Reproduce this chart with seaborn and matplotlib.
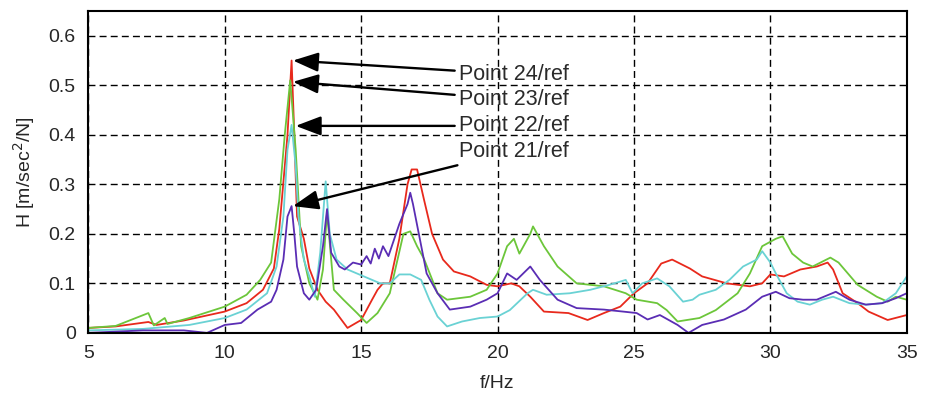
import matplotlib
matplotlib.use('Agg')
import matplotlib.pyplot as plt
import seaborn as sns
import pandas as pd

# Frequency response readings (f in Hz, H in m/sec^2/N)
f_24 = [5, 6, 7.2, 7.5, 8.5, 10, 10.8, 11.4, 11.8, 12.0, 12.3, 12.45, 12.55, 12.65,
        12.9, 13.1, 13.4, 13.7, 14.0, 14.5, 15.0, 15.4, 15.6, 15.8, 16.05, 16.4, 16.7,
        16.85, 17.05, 17.3, 17.6, 18.0, 18.4, 19.0, 19.6, 20.0, 20.5, 20.8, 21.2, 21.7,
        22.6, 23.3, 23.9, 24.5, 25.0, 25.5, 26.0, 26.4, 27.05, 27.5, 28.4, 29.25, 29.7,
        30.0, 30.5, 31.1, 31.7, 32.1, 32.3, 32.65, 33.2, 33.6, 34.3, 35]
h_24 = [0.01, 0.013, 0.022, 0.016, 0.025, 0.043, 0.06, 0.087, 0.13, 0.21, 0.40, 0.55,
        0.40, 0.235, 0.19, 0.13, 0.087, 0.063, 0.047, 0.01, 0.026, 0.067, 0.087, 0.1,
        0.1, 0.19, 0.30, 0.33, 0.33, 0.27, 0.2, 0.148, 0.124, 0.114, 0.097, 0.094, 0.1,
        0.094, 0.073, 0.043, 0.04, 0.026, 0.04, 0.053, 0.08, 0.1, 0.14, 0.148, 0.13,
        0.114, 0.1, 0.094, 0.1, 0.118, 0.114, 0.128, 0.134, 0.142, 0.128, 0.08, 0.06,
        0.043, 0.026, 0.036]

f_23 = [5, 6, 7.2, 7.4, 7.8, 7.9, 8.7, 10, 10.8, 11.3, 11.7, 12.0, 12.2, 12.4, 12.6,
        12.8, 13.1, 13.4, 13.6, 13.75, 14.0, 14.35, 14.85, 15.2, 15.6, 16.05, 16.55,
        16.8, 17.05, 17.3, 17.8, 18.15, 19.0, 19.6, 20.0, 20.35, 20.6, 20.8, 21.2, 21.3,
        21.7, 22.2, 22.9, 23.9, 24.7, 25.1, 25.85, 26.2, 26.6, 27.4, 28.0, 28.8, 29.25,
        29.7, 30.2, 30.45, 30.8, 31.2, 31.55, 32.2, 32.5, 33.2, 33.9, 34.3, 34.6, 35]
h_23 = [0.01, 0.014, 0.04, 0.015, 0.03, 0.018, 0.03, 0.053, 0.077, 0.107, 0.142, 0.27,
        0.40, 0.51, 0.37, 0.175, 0.1, 0.067, 0.128, 0.243, 0.087, 0.067, 0.04, 0.02,
        0.04, 0.08, 0.2, 0.205, 0.175, 0.15, 0.08, 0.067, 0.073, 0.087, 0.12, 0.175,
        0.19, 0.16, 0.2, 0.215, 0.175, 0.134, 0.1, 0.094, 0.08, 0.067, 0.06, 0.046,
        0.023, 0.03, 0.046, 0.08, 0.12, 0.175, 0.19, 0.195, 0.16, 0.142, 0.134, 0.152,
        0.142, 0.097, 0.073, 0.063, 0.073, 0.067]

f_22 = [5, 7, 8.7, 10, 10.8, 11.55, 11.9, 12.15, 12.3, 12.45, 12.6, 12.7, 12.9, 13.1,
        13.3, 13.5, 13.7, 13.85, 14.1, 14.5, 15.1, 15.7, 16.05, 16.4, 16.8, 17.2, 17.5,
        17.8, 18.15, 18.7, 19.35, 20.0, 20.45, 21.1, 21.3, 21.8, 22.65, 23.4, 24.1, 24.7,
        24.95, 25.3, 25.85, 26.3, 26.8, 27.15, 27.4, 28.0, 28.5, 29.0, 29.5, 29.7, 30.0,
        30.2, 30.6, 31.0, 31.45, 31.9, 32.3, 32.9, 33.5, 34.1, 34.6, 35]
h_22 = [0.005, 0.008, 0.016, 0.03, 0.047, 0.08, 0.134, 0.235, 0.37, 0.42, 0.337, 0.235,
        0.148, 0.114, 0.073, 0.162, 0.306, 0.2, 0.148, 0.128, 0.114, 0.1, 0.1, 0.118,
        0.118, 0.107, 0.067, 0.033, 0.013, 0.023, 0.03, 0.033, 0.046, 0.08, 0.087,
        0.077, 0.08, 0.087, 0.097, 0.107, 0.08, 0.1, 0.11, 0.094, 0.063, 0.067, 0.077,
        0.087, 0.107, 0.134, 0.148, 0.165, 0.142, 0.12, 0.08, 0.063, 0.057, 0.067, 0.073,
        0.06, 0.057, 0.06, 0.08, 0.114]

f_21 = [5, 7, 8.5, 9.35, 10, 10.6, 11.2, 11.7, 11.9, 12.15, 12.3, 12.45, 12.55, 12.65,
        12.9, 13.1, 13.35, 13.6, 13.75, 13.9, 14.2, 14.4, 14.7, 15.0, 15.2, 15.35, 15.5,
        15.65, 15.8, 16.0, 16.4, 16.7, 16.8, 16.9, 17.15, 17.4, 17.8, 18.25, 19.0, 19.6,
        20.0, 20.35, 20.7, 21.2, 21.55, 22.2, 22.9, 23.9, 24.6, 25.1, 25.5, 25.95, 26.6,
        27.0, 27.5, 28.3, 29.1, 29.7, 30.2, 30.7, 31.2, 31.7, 32.4, 32.9, 33.5, 34.1,
        34.6, 35]
h_21 = [0.0, 0.005, 0.005, 0.0, 0.016, 0.02, 0.047, 0.063, 0.087, 0.148, 0.235, 0.256,
        0.2, 0.134, 0.08, 0.067, 0.087, 0.175, 0.25, 0.162, 0.134, 0.128, 0.142, 0.138,
        0.155, 0.14, 0.17, 0.15, 0.175, 0.155, 0.22, 0.26, 0.283, 0.26, 0.19, 0.12, 0.08,
        0.047, 0.053, 0.067, 0.08, 0.12, 0.107, 0.134, 0.107, 0.067, 0.05, 0.047, 0.043,
        0.04, 0.027, 0.036, 0.016, 0.0, 0.016, 0.027, 0.047, 0.073, 0.083, 0.07, 0.067,
        0.067, 0.083, 0.067, 0.057, 0.06, 0.07, 0.08]

# annotation labels: text, peak target (f, H), text position (f, H)
labels = ['Point 24/ref', 'Point 23/ref', 'Point 22/ref', 'Point 21/ref']
peak_f = [12.5, 12.5, 12.6, 12.5]
peak_h = [0.55, 0.507, 0.418, 0.256]
text_f = [18.6, 18.6, 18.6, 18.6]
text_h = [0.522, 0.471, 0.418, 0.367]

df = pd.concat([
    pd.DataFrame({'f': f_24, 'H': h_24, 'point': 'Point 24'}),
    pd.DataFrame({'f': f_23, 'H': h_23, 'point': 'Point 23'}),
    pd.DataFrame({'f': f_22, 'H': h_22, 'point': 'Point 22'}),
    pd.DataFrame({'f': f_21, 'H': h_21, 'point': 'Point 21'}),
])

sns.set_style('white')
plt.rcParams['font.family'] = ['Liberation Sans', 'DejaVu Sans']

fig = plt.figure(figsize=(9.3, 3.93), dpi=100)
ax = fig.add_axes([0.095, 0.153, 0.88, 0.819])

palette = {'Point 24': '#e8291c', 'Point 23': '#6cc63a',
           'Point 22': '#6ad2d4', 'Point 21': '#5a2db4'}
sns.lineplot(data=df, x='f', y='H', hue='point', palette=palette,
             linewidth=1.3, legend=False, ax=ax, estimator=None, sort=False)

for lab, pf, ph, tf, th in zip(labels, peak_f, peak_h, text_f, text_h):
    ax.annotate(lab, xy=(pf, ph), xytext=(tf, th), fontsize=15.5,
                ha='left', va='center', color='#2a2a2a',
                arrowprops=dict(arrowstyle='-|>,head_length=1.0,head_width=0.38',
                                color='black', lw=1.7, shrinkA=1, shrinkB=0))

ax.set_xlim(5, 35)
ax.set_ylim(0, 0.65)
ax.set_xticks([5, 10, 15, 20, 25, 30, 35])
ax.set_yticks([0, 0.1, 0.2, 0.3, 0.4, 0.5, 0.6])
ax.set_yticklabels(['0', '0.1', '0.2', '0.3', '0.4', '0.5', '0.6'])
ax.grid(True, color='black', linestyle=(0, (5, 3)), linewidth=1.0)
ax.tick_params(direction='in', labelsize=14, length=4, color='black', pad=9)
for s in ax.spines.values():
    s.set_color('black')
    s.set_linewidth(1.5)
ax.set_xlabel('f/Hz', fontsize=14, labelpad=9)
ax.set_ylabel('H [m/sec$^2$/N]', fontsize=14, labelpad=8)

fig.savefig('out.png', dpi=100)
